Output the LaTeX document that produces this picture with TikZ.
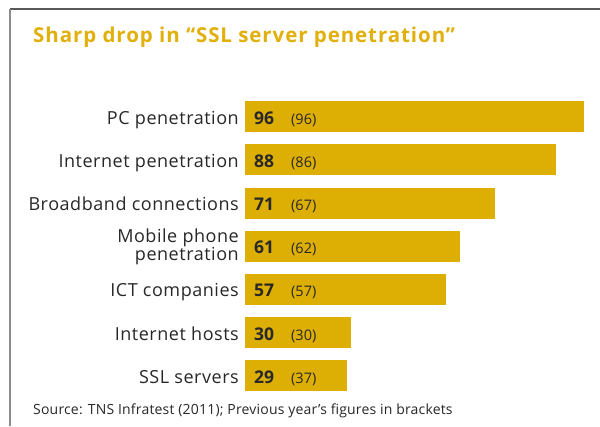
\documentclass[tikz,border=0pt]{standalone}
\usepackage{fontspec}
\setmainfont{Open Sans}
\newfontfamily\labfont[LetterSpace=3]{Open Sans}
\newfontfamily\titlefont[LetterSpace=4.5]{Open Sans Bold}
\newfontfamily\srcfont[LetterSpace=1.4]{Open Sans}
\definecolor{bargold}{RGB}{221,174,4}
\definecolor{titlegold}{RGB}{226,176,12}
\definecolor{labtext}{RGB}{40,40,40}
\begin{document}
\begin{tikzpicture}[x=1pt,y=-1pt,
  barbox/.style={fill=bargold,draw=none,inner sep=0pt,minimum height=31pt,anchor=north west},
  lab/.style={anchor=base east,inner sep=0pt,text=labtext,font=\labfont\fontsize{18}{18}\selectfont,align=right},
  bignum/.style={anchor=base west,inner sep=0pt,text=labtext,font=\bfseries\fontsize{17.5}{18}\selectfont},
  prevnum/.style={anchor=base west,inner sep=0pt,text=labtext,font=\fontsize{14.5}{15}\selectfont},
  frametop/.style={draw=black!65,line width=1.5pt},
  frameleft/.style={draw=black!45,line width=1.5pt}]
\useasboundingbox[fill=white] (0,0) rectangle (600,426);
\coordinate (ftl) at (10,9);
\coordinate (ftr) at (600,9);
\coordinate (fbl) at (10,426);
\draw[frametop] (ftl) -- (ftr);
\draw[frameleft] (ftl) -- (fbl);
\node[anchor=base west,inner sep=0pt,text=titlegold,font=\titlefont\fontsize{20.5}{22}\selectfont] (title) at (33,42.5) {Sharp drop in “SSL server penetration”};
\foreach \i/\val/\prev/\len in {
  1/96/96/339,
  2/88/86/311,
  3/71/67/250,
  4/61/62/215,
  5/57/57/201,
  6/30/30/106,
  7/29/37/102}{
  \pgfmathsetmacro{\top}{101+43.2*(\i-1)}
  \node[barbox,minimum width=\len pt] (bar\i) at (245,\top) {};
  \node[bignum] (val\i) at (254,\top+23) {\val};
  \node[prevnum] (prev\i) at (291,\top+23) {(\prev)};
}
\foreach \i/\lbl in {1/PC penetration,2/Internet penetration,3/Broadband connections,5/ICT companies,6/Internet hosts,7/SSL servers}{
  \pgfmathsetmacro{\top}{101+43.2*(\i-1)}
  \node[lab] (lab\i) at (239,\top+23) {\lbl};
}
\node[lab] (lab4a) at (239,242) {Mobile phone};
\node[lab] (lab4b) at (239,260) {penetration};
\node[anchor=base west,inner sep=0pt,text=labtext,font=\srcfont\fontsize{14}{15}\selectfont] (source) at (33,414) {Source: TNS Infratest (2011); Previous year’s figures in brackets};
\end{tikzpicture}
\end{document}
